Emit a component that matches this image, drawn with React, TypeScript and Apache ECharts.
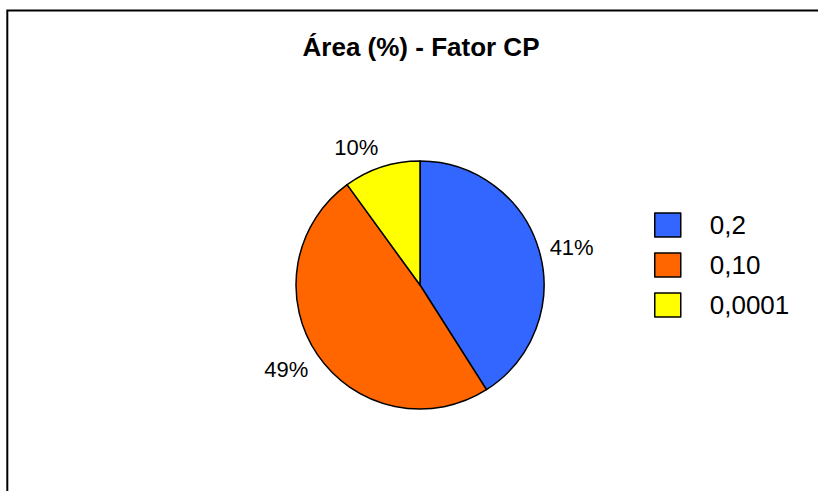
import React, { useEffect, useRef } from "react";
import * as echarts from "echarts";

const titleText = "Área (%) - Fator CP";
const categories = ["0,2", "0,10", "0,0001"];
const values = [41, 49, 10];
const colors = ["#3366FF", "#FF6600", "#FFFF00"];

const FONT = "'Liberation Sans', Arial, Helvetica, sans-serif";
const CENTER: [number, number] = [420, 285];
const RADIUS = 124;
const LABEL_GAP = 11;

export default function App() {
  const ref = useRef<HTMLDivElement>(null);
  useEffect(() => {
    if (!ref.current) return;
    const chart = echarts.init(ref.current, undefined, { renderer: "svg" });
    const total = values.reduce((a, b) => a + b, 0);
    const mids: number[] = [];
    let acc = 0;
    values.forEach((v) => {
      mids.push(((acc + v / 2) / total) * Math.PI * 2);
      acc += v;
    });
    chart.setOption({
      animation: false,
      backgroundColor: "#ffffff",
      title: {
        text: titleText,
        left: 421,
        textAlign: "center",
        top: 34,
        padding: 0,
        textStyle: { fontFamily: FONT, fontSize: 26, fontWeight: "bold", color: "#000" },
      },
      graphic: [
        {
          type: "rect",
          shape: { x: 7.3, y: 10.5, width: 900, height: 600 },
          style: { fill: "none", stroke: "#000", lineWidth: 2 },
          silent: true,
        },
      ],
      legend: {
        orient: "vertical",
        left: 654,
        top: 212,
        padding: 0,
        itemWidth: 26,
        itemHeight: 24,
        itemGap: 14,
        icon: "rect",
        data: categories,
        itemStyle: { borderColor: "#000", borderWidth: 1.5 },
        textStyle: { fontFamily: FONT, fontSize: 26, color: "#000", padding: [0, 0, 0, 24] },
      },
      series: [
        {
          type: "pie",
          center: CENTER,
          radius: RADIUS,
          startAngle: 90,
          clockwise: true,
          avoidLabelOverlap: false,
          percentPrecision: 0,
          data: categories.map((c, i) => ({ name: c, value: values[i], itemStyle: { color: colors[i] } })),
          itemStyle: { borderColor: "#000", borderWidth: 1.5 },
          label: {
            show: true,
            position: "outside",
            formatter: "{d}%",
            fontFamily: FONT,
            fontSize: 22,
            lineHeight: 18,
            color: "#000",
          },
          labelLine: { show: false },
          labelLayout: (params: any) => {
            const a = mids[params.dataIndex];
            const dx = Math.sin(a);
            const dy = -Math.cos(a);
            const x = CENTER[0] + (RADIUS + LABEL_GAP) * dx;
            const y = CENTER[1] + (RADIUS + LABEL_GAP) * dy;
            return {
              x,
              y,
              align: dx >= 0 ? "left" : "right",
              verticalAlign: Math.abs(dy) < 0.4 ? "middle" : dy >= 0 ? "top" : "bottom",
            };
          },
          emphasis: { disabled: true },
        },
      ],
    });
    return () => chart.dispose();
  }, []);
  return (
    <div
      ref={ref}
      style={{ position: "fixed", left: 0, top: 0, width: 818, height: 491 }}
    />
  );
}
